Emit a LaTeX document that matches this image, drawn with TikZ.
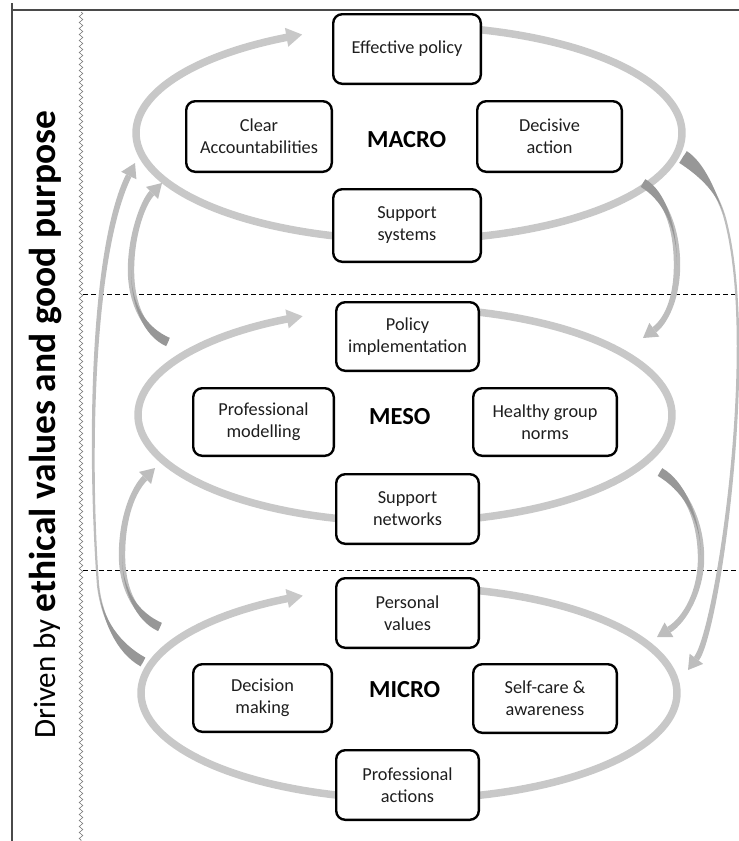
\documentclass[tikz,border=0pt]{standalone}
\usepackage{fontspec}
\setmainfont{Carlito}
\usetikzlibrary{calc,arrows.meta,decorations.pathmorphing}

\definecolor{loopgray}{HTML}{C8C8C8}
\definecolor{arrowlight}{HTML}{BDBDBD}
\definecolor{arrowdark}{HTML}{979797}
\definecolor{framegray}{HTML}{4A4A4A}
\definecolor{textdark}{HTML}{1E1E1E}

% one tapered band along a cubic segment: [fill]{p0}{c1}{c2}{p3}{half width at p0}{half width at p3}
\newcommand\bandseg[7][]{%
  \path (#2) coordinate (bs0) (#3) coordinate (bs1) (#4) coordinate (bs2) (#5) coordinate (bs3);
  \path ($(bs0)!#6!90:(bs1)$) coordinate (bs0l) ($(bs0)!#6!-90:(bs1)$) coordinate (bs0r)
        ($(bs3)!#7!-90:(bs2)$) coordinate (bs3l) ($(bs3)!#7!90:(bs2)$) coordinate (bs3r);
  \fill[#1] (bs0l) .. controls ($(bs1)+(bs0l)-(bs0)$) and ($(bs2)+(bs3l)-(bs3)$) .. (bs3l)
     -- (bs3r) .. controls ($(bs2)+(bs3r)-(bs3)$) and ($(bs1)+(bs0r)-(bs0)$) .. (bs0r) -- cycle;
}

% curved arrow between levels, built from coordinates <p>t, <p>c1, <p>c2, <p>m, <p>c3, <p>c4, <p>h
% #2 tail half width, #3 middle half width, #4 half width at the head, #5 half width of the dark tail
\newcommand\levelarrow[5]{%
  \path ($(#1h)!14pt!(#1c4)$) coordinate (#1b);
  \bandseg[arrowlight]{#1t}{#1c1}{#1c2}{#1m}{#2}{#3}
  \bandseg[arrowlight]{#1m}{#1c3}{#1c4}{#1b}{#3}{#4}
  \bandseg[arrowdark]{#1t}{#1c1}{#1c2}{#1m}{#5}{0pt}
  \fill[arrowlight] ($(#1b)!8.5pt!90:(#1h)$) -- (#1h) -- ($(#1b)!8.5pt!-90:(#1h)$) -- cycle;
}

\tikzset{
  loopline/.style={draw=loopgray, line width=7.5pt, -{Triangle[length=16pt,width=18pt]}},
  itembox/.style={draw=black, fill=white, line width=2.4pt, rounded corners=9pt,
    align=center, text=textdark, inner sep=2pt,
    font=\fontsize{18.3}{22}\selectfont},
  levellabel/.style={anchor=west, inner sep=0pt, text=black,
    font=\bfseries\fontsize{24.5}{28}\selectfont},
  levelsep/.style={draw=black, line width=0.9pt, dash pattern=on 5pt off 3pt},
}

\begin{document}
\begin{tikzpicture}[x=1pt, y=-1pt]
\useasboundingbox (0,0) rectangle (739,841);

% frame and side margin
\draw[framegray, line width=1.4pt] (12,841) -- (12,3);
\draw[framegray, line width=1.4pt] (12,10) -- (739,10);
\draw[gray, line width=0.6pt, decorate, decoration={zigzag, segment length=6pt, amplitude=1.8pt}]
  (81,12) -- (81,841);

% level separators
\draw[levelsep] (83,294) -- (739,294);
\draw[levelsep] (83,570) -- (739,570);

% side title
\node[rotate=90, anchor=base west, inner sep=0pt] (title) at (55,739)
  {{\fontsize{31}{36}\selectfont Driven by }{\bfseries\fontsize{37.5}{42}\selectfont ethical values and good purpose}};

% loops of each level
\draw[loopline] plot[domain=265:607, samples=160, variable=\t] ({409+273*cos(\t)}, {133+107*sin(\t)});
\draw[loopline] plot[domain=265:607.5, samples=160, variable=\t] ({405+267*cos(\t)}, {415+107*sin(\t)});
\draw[loopline] plot[domain=265:606.7, samples=160, variable=\t] ({409+268*cos(\t)}, {693+106*sin(\t)});

% arrow ends between levels
% left, micro to macro
\coordinate (a1t) at (143,662); \coordinate (a1c1) at (118,648); \coordinate (a1c2) at (102,620);
\coordinate (a1m) at (98,585);  \coordinate (a1c3) at (88,450);  \coordinate (a1c4) at (92,250);
\coordinate (a1h) at (135,163);
% left, meso to macro
\coordinate (a2t) at (168,342); \coordinate (a2c1) at (145,332); \coordinate (a2c2) at (131,305);
\coordinate (a2m) at (131,270); \coordinate (a2c3) at (131,235); \coordinate (a2c4) at (143,202);
\coordinate (a2h) at (162,183);
% left, micro to meso
\coordinate (a3t) at (160,627); \coordinate (a3c1) at (138,617); \coordinate (a3c2) at (122,592);
\coordinate (a3m) at (122,555); \coordinate (a3c3) at (122,518); \coordinate (a3c4) at (133,490);
\coordinate (a3h) at (155,468);
% right, macro to meso
\coordinate (a4t) at (643,183); \coordinate (a4c1) at (663,195); \coordinate (a4c2) at (677,225);
\coordinate (a4m) at (677,265); \coordinate (a4c3) at (677,300); \coordinate (a4c4) at (665,322);
\coordinate (a4h) at (643,338);
% right, meso to micro
\coordinate (a5t) at (660,472); \coordinate (a5c1) at (682,485); \coordinate (a5c2) at (700,515);
\coordinate (a5m) at (701,555); \coordinate (a5c3) at (702,590); \coordinate (a5c4) at (685,620);
\coordinate (a5h) at (657,637);
% right, macro to micro
\coordinate (a6t) at (683,157); \coordinate (a6c1) at (700,168); \coordinate (a6c2) at (716,190);
\coordinate (a6m) at (724,215); \coordinate (a6c3) at (760,340); \coordinate (a6c4) at (718,630);
\coordinate (a6h) at (688,670);

\levelarrow{a1}{2pt}{1.1pt}{3pt}{5pt}
\levelarrow{a2}{2.5pt}{3.2pt}{3.2pt}{4.5pt}
\levelarrow{a3}{2.5pt}{3.2pt}{3.2pt}{4.5pt}
\levelarrow{a4}{2.5pt}{3.2pt}{3.2pt}{4.5pt}
\levelarrow{a5}{2.5pt}{3.2pt}{3.2pt}{4.5pt}
\levelarrow{a6}{2pt}{1.1pt}{3pt}{7pt}

% macro level
\node[itembox, minimum width=147.6pt, minimum height=69.6pt] (effpol) at (407,49) {Effective policy};
\node[itembox, minimum width=145.6pt, minimum height=70.6pt] (clearacc) at (259,136.5) {Clear\\Accountabilities};
\node[itembox, minimum width=144.6pt, minimum height=70.6pt] (decisive) at (549.5,136.5) {Decisive\\action};
\node[itembox, minimum width=147.6pt, minimum height=72.6pt] (suppsys) at (407,225.5) {Support\\systems};
\node[levellabel] (macro) at (367,140) {MACRO};

% meso level
\node[itembox, minimum width=142.6pt, minimum height=68.6pt] (polimp) at (407.5,336.5) {Policy\\implementation};
\node[itembox, minimum width=140.6pt, minimum height=67.6pt] (profmod) at (263.5,422) {Professional\\modelling};
\node[itembox, minimum width=143.6pt, minimum height=67.6pt] (healthy) at (545,422) {Healthy group\\norms};
\node[itembox, minimum width=142.6pt, minimum height=69.6pt] (suppnet) at (407.5,509) {Support\\networks};
\node[levellabel] (meso) at (369,417) {MESO};

% micro level
\node[itembox, minimum width=142.6pt, minimum height=69.6pt] (persval) at (407.5,613) {Personal\\values};
\node[itembox, minimum width=138.6pt, minimum height=67.6pt] (decmak) at (262.5,698) {Decision\\making};
\node[itembox, minimum width=143.6pt, minimum height=68.6pt] (selfcare) at (545,698.5) {Self-care \&\\awareness};
\node[itembox, minimum width=142.6pt, minimum height=69.6pt] (profact) at (407.5,785) {Professional\\actions};
\node[levellabel] (micro) at (369,690) {MICRO};
\end{tikzpicture}
\end{document}
